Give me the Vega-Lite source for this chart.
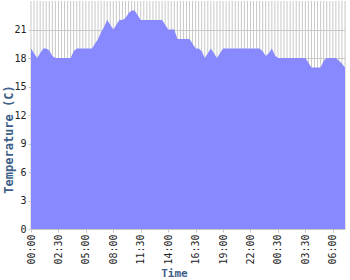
{
  "$schema": "https://vega.github.io/schema/vega-lite/v6.json",
  "autosize": {"type": "none"},
  "padding": {"left": 31, "top": 1, "right": 5, "bottom": 51},
  "width": 314,
  "height": 228,
  "background": "white",
  "config": {
    "view": {"stroke": null},
    "axis": {
      "labelFont": "DejaVu Sans Mono",
      "labelFontSize": 10,
      "labelColor": "#222222",
      "titleFont": "DejaVu Sans Mono",
      "titleFontSize": 11,
      "titleFontWeight": "bold",
      "titleColor": "#3c6089",
      "tickColor": "#c8c8c8",
      "tickSize": 3,
      "domain": false,
      "gridColor": "#c8c8c8",
      "gridOpacity": 1
    }
  },
  "data": {"values": [
    {"time": "1 00:00", "temp": 19},
    {"time": "1 00:17", "temp": 18.5},
    {"time": "1 00:33", "temp": 18},
    {"time": "1 00:50", "temp": 18.5},
    {"time": "1 01:07", "temp": 19},
    {"time": "1 01:23", "temp": 19},
    {"time": "1 01:40", "temp": 18.8},
    {"time": "1 01:57", "temp": 18.2},
    {"time": "1 02:13", "temp": 18},
    {"time": "1 02:30", "temp": 18},
    {"time": "1 02:47", "temp": 18},
    {"time": "1 03:03", "temp": 18},
    {"time": "1 03:20", "temp": 18},
    {"time": "1 03:37", "temp": 18},
    {"time": "1 03:53", "temp": 18.7},
    {"time": "1 04:10", "temp": 19},
    {"time": "1 04:27", "temp": 19},
    {"time": "1 04:43", "temp": 19},
    {"time": "1 05:00", "temp": 19},
    {"time": "1 05:20", "temp": 19},
    {"time": "1 05:40", "temp": 19},
    {"time": "1 06:00", "temp": 19.5},
    {"time": "1 06:20", "temp": 20},
    {"time": "1 06:40", "temp": 20.7},
    {"time": "1 07:00", "temp": 21.3},
    {"time": "1 07:20", "temp": 22},
    {"time": "1 07:40", "temp": 21.5},
    {"time": "1 08:00", "temp": 21},
    {"time": "1 08:23", "temp": 21.5},
    {"time": "1 08:47", "temp": 22},
    {"time": "1 09:10", "temp": 22},
    {"time": "1 09:33", "temp": 22.2},
    {"time": "1 09:57", "temp": 22.7},
    {"time": "1 10:20", "temp": 23},
    {"time": "1 10:43", "temp": 23},
    {"time": "1 11:07", "temp": 22.5},
    {"time": "1 11:30", "temp": 22},
    {"time": "1 11:47", "temp": 22},
    {"time": "1 12:03", "temp": 22},
    {"time": "1 12:20", "temp": 22},
    {"time": "1 12:37", "temp": 22},
    {"time": "1 12:53", "temp": 22},
    {"time": "1 13:10", "temp": 22},
    {"time": "1 13:27", "temp": 22},
    {"time": "1 13:43", "temp": 21.5},
    {"time": "1 14:00", "temp": 21},
    {"time": "1 14:17", "temp": 21},
    {"time": "1 14:33", "temp": 21},
    {"time": "1 14:50", "temp": 20},
    {"time": "1 15:07", "temp": 20},
    {"time": "1 15:23", "temp": 20},
    {"time": "1 15:40", "temp": 20},
    {"time": "1 15:57", "temp": 20},
    {"time": "1 16:13", "temp": 19.5},
    {"time": "1 16:30", "temp": 19},
    {"time": "1 16:47", "temp": 19},
    {"time": "1 17:03", "temp": 18.7},
    {"time": "1 17:20", "temp": 18},
    {"time": "1 17:37", "temp": 18.5},
    {"time": "1 17:53", "temp": 19},
    {"time": "1 18:10", "temp": 18.5},
    {"time": "1 18:27", "temp": 18},
    {"time": "1 18:43", "temp": 18.5},
    {"time": "1 19:00", "temp": 19},
    {"time": "1 19:20", "temp": 19},
    {"time": "1 19:40", "temp": 19},
    {"time": "1 20:00", "temp": 19},
    {"time": "1 20:20", "temp": 19},
    {"time": "1 20:40", "temp": 19},
    {"time": "1 21:00", "temp": 19},
    {"time": "1 21:20", "temp": 19},
    {"time": "1 21:40", "temp": 19},
    {"time": "1 22:00", "temp": 19},
    {"time": "1 22:17", "temp": 19},
    {"time": "1 22:33", "temp": 19},
    {"time": "1 22:50", "temp": 19},
    {"time": "1 23:07", "temp": 18.7},
    {"time": "1 23:23", "temp": 18.2},
    {"time": "1 23:40", "temp": 18.5},
    {"time": "1 23:57", "temp": 19},
    {"time": "2 00:13", "temp": 18.3},
    {"time": "2 00:30", "temp": 18},
    {"time": "2 00:50", "temp": 18},
    {"time": "2 01:10", "temp": 18},
    {"time": "2 01:30", "temp": 18},
    {"time": "2 01:50", "temp": 18},
    {"time": "2 02:10", "temp": 18},
    {"time": "2 02:30", "temp": 18},
    {"time": "2 02:50", "temp": 18},
    {"time": "2 03:10", "temp": 18},
    {"time": "2 03:30", "temp": 18},
    {"time": "2 03:47", "temp": 17.5},
    {"time": "2 04:03", "temp": 17},
    {"time": "2 04:20", "temp": 17},
    {"time": "2 04:37", "temp": 17},
    {"time": "2 04:53", "temp": 17},
    {"time": "2 05:10", "temp": 17.7},
    {"time": "2 05:27", "temp": 18},
    {"time": "2 05:43", "temp": 18},
    {"time": "2 06:00", "temp": 18},
    {"time": "2 06:17", "temp": 18},
    {"time": "2 06:33", "temp": 17.7},
    {"time": "2 06:50", "temp": 17.4},
    {"time": "2 07:07", "temp": 17}
  ]},
  "layer": [
    {
      "mark": {"type": "rule", "color": "#c8c8c8", "strokeWidth": 1},
      "encoding": {
        "x": {"field": "time", "type": "ordinal", "sort": null}
      }
    },
    {
      "mark": {"type": "area", "color": "#8888ff", "opacity": 1, "interpolate": "linear"},
      "encoding": {
        "x": {
          "field": "time",
          "type": "ordinal",
          "sort": null,
          "scale": {"type": "point", "padding": 0},
          "axis": {
            "title": "Time",
            "values": ["1 00:00", "1 02:30", "1 05:00", "1 08:00", "1 11:30", "1 14:00", "1 16:30", "1 19:00", "1 22:00", "2 00:30", "2 03:30", "2 06:00"],
            "labelExpr": "slice(datum.value, 2)",
            "labelAngle": -90,
            "labelPadding": 2,
            "grid": false,
            "titleX": 143,
            "titleY": 47,
            "titleAlign": "center",
            "titleBaseline": "alphabetic"
          }
        },
        "y": {
          "field": "temp",
          "type": "quantitative",
          "scale": {"domain": [0, 24], "nice": false},
          "axis": {
            "title": "Temperature (C)",
            "values": [0, 3, 6, 9, 12, 15, 18, 21],
            "grid": true,
            "labelPadding": 2,
            "titleFontSize": 12,
            "titleX": -23,
            "titleY": 138,
            "titleAngle": -90,
            "titleAlign": "center",
            "titleBaseline": "middle"
          }
        }
      }
    }
  ]
}
